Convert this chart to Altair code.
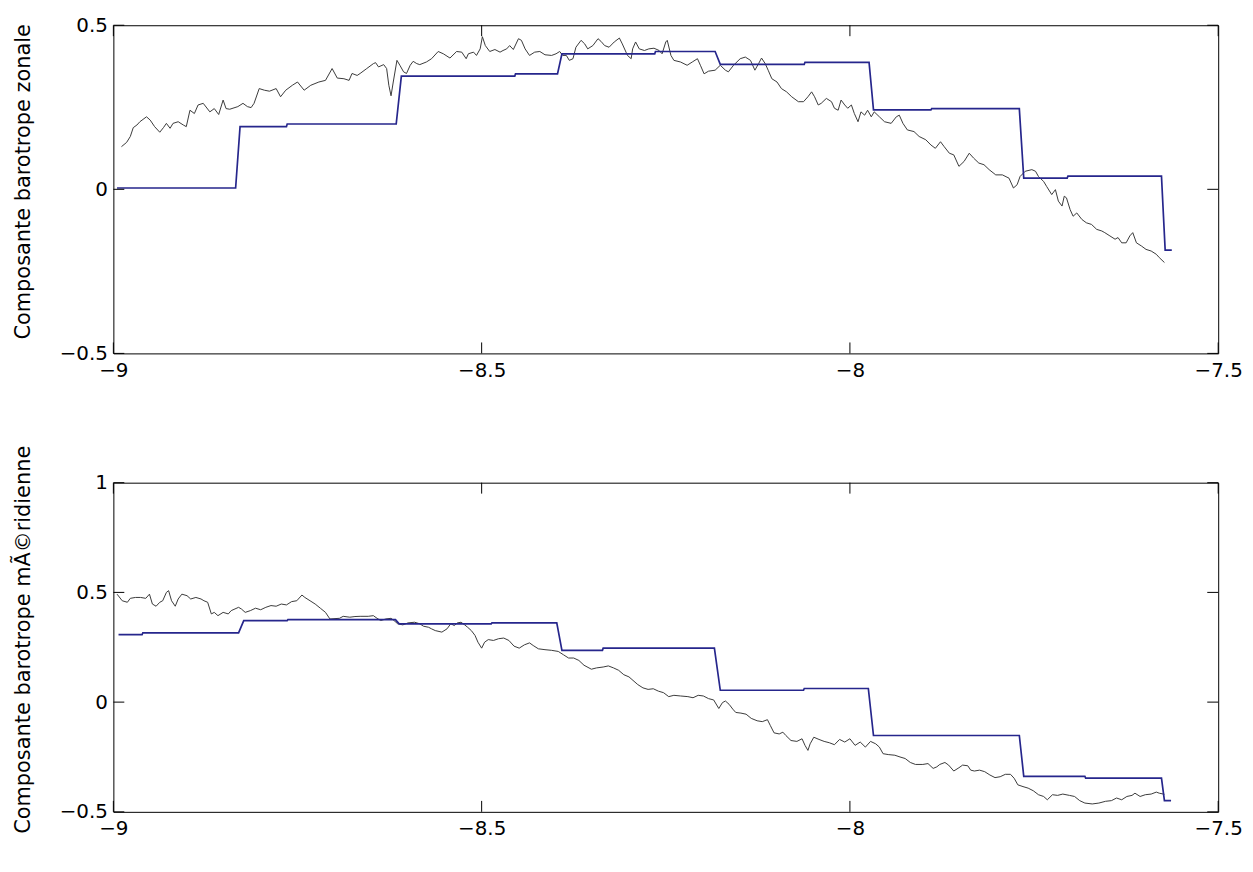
import altair as alt
import pandas as pd

# ---------------- data ----------------
x_ticks = [-9, -8.5, -8, -7.5]
top_y_ticks = [-0.5, 0, 0.5]
bottom_y_ticks = [-0.5, 0, 0.5, 1]

top_title = "Composante barotrope zonale"
bottom_title = "Composante barotrope mÃ©ridienne"

# top panel, black (noisy) series
top_black_x = [
    -8.989, -8.982, -8.977, -8.973, -8.968, -8.964, -8.955, -8.950, -8.944, -8.937,
    -8.932, -8.928, -8.923, -8.919, -8.912, -8.905, -8.901, -8.896, -8.890, -8.885,
    -8.878, -8.869, -8.863, -8.857, -8.851, -8.847, -8.842, -8.831, -8.824, -8.818,
    -8.813, -8.809, -8.802, -8.795, -8.788, -8.779, -8.773, -8.766, -8.757, -8.750,
    -8.741, -8.732, -8.721, -8.712, -8.703, -8.696, -8.687, -8.680, -8.676, -8.669,
    -8.665, -8.656, -8.647, -8.644, -8.640, -8.633, -8.629, -8.626, -8.623, -8.620,
    -8.615, -8.611, -8.606, -8.602, -8.597, -8.593, -8.588, -8.584, -8.575, -8.568,
    -8.559, -8.552, -8.543, -8.534, -8.527, -8.521,
    -8.518, -8.511, -8.507, -8.502, -8.499, -8.495, -8.489, -8.482, -8.475, -8.471,
    -8.466, -8.462, -8.457, -8.450, -8.446, -8.441, -8.435, -8.428, -8.421, -8.414,
    -8.405, -8.399, -8.394, -8.390, -8.385, -8.381, -8.376, -8.372, -8.365, -8.360,
    -8.356, -8.349, -8.342, -8.338, -8.333, -8.327, -8.320, -8.313, -8.309, -8.304,
    -8.302, -8.297, -8.295, -8.291, -8.286, -8.279, -8.273, -8.266, -8.259, -8.255,
    -8.250, -8.248, -8.243, -8.239, -8.230, -8.221, -8.214, -8.207, -8.203, -8.198,
    -8.192, -8.183, -8.176, -8.169, -8.165, -8.158, -8.149, -8.142, -8.135, -8.129,
    -8.124, -8.120, -8.115, -8.111, -8.106, -8.099, -8.093, -8.086, -8.079, -8.070,
    -8.063, -8.057, -8.052, -8.048, -8.043, -8.039,
    -8.032, -8.025, -8.021, -8.016, -8.012, -8.007, -8.003, -7.998, -7.994, -7.989,
    -7.985, -7.980, -7.976, -7.971, -7.967, -7.960, -7.953, -7.944, -7.937, -7.933,
    -7.928, -7.922, -7.913, -7.906, -7.897, -7.890, -7.884, -7.877, -7.872, -7.865,
    -7.859, -7.852, -7.845, -7.838, -7.832, -7.825, -7.818, -7.811, -7.802, -7.793,
    -7.784, -7.778, -7.773, -7.769, -7.762, -7.753, -7.748, -7.744, -7.737, -7.733,
    -7.726, -7.721, -7.717, -7.712, -7.709, -7.706, -7.701, -7.697, -7.692, -7.685,
    -7.679, -7.672, -7.665, -7.658, -7.654, -7.647, -7.640, -7.636, -7.631, -7.625,
    -7.620, -7.616, -7.611, -7.604, -7.598, -7.591, -7.584, -7.580, -7.573,
]
top_black_y = [
    0.130, 0.143, 0.161, 0.188, 0.196, 0.206, 0.221, 0.211, 0.191, 0.174,
    0.188, 0.201, 0.186, 0.201, 0.206, 0.196, 0.191, 0.241, 0.231, 0.257,
    0.262, 0.236, 0.246, 0.228, 0.272, 0.246, 0.244, 0.252, 0.262, 0.252,
    0.249, 0.262, 0.307, 0.302, 0.299, 0.307, 0.282, 0.302, 0.317, 0.327,
    0.302, 0.317, 0.327, 0.332, 0.368, 0.339, 0.337, 0.332, 0.353, 0.347,
    0.353, 0.368, 0.383, 0.386, 0.373, 0.380, 0.368, 0.317, 0.285, 0.327,
    0.393, 0.378, 0.358, 0.353, 0.378, 0.390, 0.383, 0.380, 0.388, 0.398,
    0.420, 0.413, 0.400, 0.420, 0.418, 0.398,
    0.413, 0.418, 0.408, 0.428, 0.465, 0.438, 0.420, 0.426, 0.418, 0.423,
    0.428, 0.438, 0.426, 0.459, 0.454, 0.428, 0.408, 0.418, 0.420, 0.410,
    0.408, 0.413, 0.420, 0.408, 0.408, 0.393, 0.398, 0.433, 0.454, 0.443,
    0.428, 0.438, 0.459, 0.451, 0.438, 0.433, 0.449, 0.461, 0.443, 0.418,
    0.408, 0.398, 0.428, 0.449, 0.428, 0.423, 0.428, 0.430, 0.423, 0.413,
    0.449, 0.454, 0.408, 0.393, 0.388, 0.378, 0.388, 0.398, 0.378, 0.352,
    0.360, 0.363, 0.378, 0.363, 0.358, 0.378, 0.398, 0.403, 0.393, 0.363,
    0.383, 0.400, 0.383, 0.363, 0.337, 0.327, 0.307, 0.297, 0.282, 0.267,
    0.267, 0.282, 0.297, 0.282, 0.257, 0.262,
    0.277, 0.267, 0.247, 0.241, 0.272, 0.257, 0.247, 0.257, 0.231, 0.206,
    0.236, 0.226, 0.241, 0.221, 0.236, 0.221, 0.206, 0.201, 0.221, 0.226,
    0.201, 0.181, 0.176, 0.161, 0.151, 0.135, 0.125, 0.145, 0.130, 0.110,
    0.105, 0.070, 0.085, 0.110, 0.095, 0.080, 0.075, 0.060, 0.044, 0.044,
    0.034, 0.004, 0.014, 0.039, 0.055, 0.060, 0.055, 0.039, 0.024, 0.009,
    -0.016, -0.001, -0.036, -0.051, -0.021, -0.026, -0.062, -0.082, -0.072, -0.092,
    -0.102, -0.107, -0.122, -0.127, -0.132, -0.142, -0.152, -0.147, -0.163, -0.163,
    -0.142, -0.132, -0.163, -0.173, -0.183, -0.188, -0.198, -0.208, -0.223,
]

# top panel, blue (step) series
top_blue_x = [-8.995, -8.834, -8.828, -8.765, -8.764, -8.616, -8.609, -8.455, -8.454, -8.397,
              -8.391, -8.265, -8.264, -8.183, -8.176, -8.062, -8.061, -7.974, -7.968, -7.890,
              -7.889, -7.770, -7.764, -7.705, -7.704, -7.577, -7.572, -7.563]
top_blue_y = [0.004, 0.004, 0.191, 0.191, 0.199, 0.199, 0.345, 0.345, 0.352, 0.352,
              0.413, 0.413, 0.420, 0.420, 0.381, 0.381, 0.387, 0.387, 0.242, 0.242,
              0.246, 0.246, 0.034, 0.034, 0.040, 0.040, -0.185, -0.185]

# bottom panel, black (noisy) series
bottom_black_x = [
    -8.995, -8.988, -8.981, -8.977, -8.970, -8.963, -8.956, -8.951, -8.947, -8.942,
    -8.937, -8.933, -8.928, -8.925, -8.921, -8.916, -8.912, -8.907, -8.900, -8.895,
    -8.888, -8.881, -8.877, -8.872, -8.867, -8.863, -8.858, -8.851, -8.844, -8.840,
    -8.830, -8.826, -8.821, -8.814, -8.807, -8.800, -8.793, -8.786, -8.779, -8.772,
    -8.765, -8.758, -8.751, -8.744, -8.740, -8.733, -8.726, -8.719, -8.712, -8.706,
    -8.693, -8.688, -8.679, -8.672, -8.665, -8.654, -8.647, -8.642, -8.637, -8.630,
    -8.623, -8.619, -8.614, -8.607, -8.600, -8.591, -8.584, -8.579, -8.572, -8.568,
    -8.563, -8.554, -8.547, -8.542, -8.537, -8.533, -8.528, -8.523, -8.519, -8.514,
    -8.509, -8.505, -8.500, -8.496, -8.491, -8.484, -8.477, -8.470, -8.463, -8.456,
    -8.449, -8.442, -8.435, -8.430, -8.423, -8.414, -8.405, -8.396, -8.389, -8.382,
    -8.375, -8.368, -8.361, -8.351, -8.344, -8.335, -8.328, -8.321, -8.314, -8.307,
    -8.300,
    -8.288, -8.281, -8.274, -8.267, -8.260, -8.253, -8.246, -8.239, -8.230, -8.220,
    -8.213, -8.206, -8.199, -8.192, -8.185, -8.178, -8.173, -8.169, -8.164, -8.159,
    -8.155, -8.148, -8.141, -8.134, -8.126, -8.119, -8.112, -8.108, -8.103, -8.096,
    -8.091, -8.087, -8.080, -8.072, -8.065, -8.061, -8.057, -8.054, -8.049, -8.042,
    -8.035, -8.028, -8.021, -8.014, -8.007, -8.000, -7.993, -7.986, -7.979, -7.972,
    -7.965, -7.960, -7.955, -7.948, -7.939, -7.932, -7.925, -7.918, -7.911, -7.901,
    -7.894, -7.887, -7.882, -7.878, -7.871, -7.866, -7.859, -7.852, -7.847, -7.840,
    -7.836, -7.831, -7.824, -7.817, -7.810, -7.803, -7.796, -7.789, -7.782, -7.777,
    -7.772, -7.765, -7.758, -7.751, -7.744, -7.737, -7.732, -7.725, -7.718, -7.711,
    -7.702, -7.695, -7.688, -7.681, -7.671, -7.662, -7.653, -7.645, -7.638, -7.631,
    -7.624, -7.617, -7.613, -7.606, -7.599, -7.591, -7.584, -7.580, -7.573,
]
bottom_black_y = [
    0.492, 0.462, 0.455, 0.473, 0.477, 0.477, 0.473, 0.492, 0.447, 0.437,
    0.455, 0.462, 0.500, 0.508, 0.462, 0.437, 0.470, 0.492, 0.485, 0.470,
    0.477, 0.470, 0.462, 0.455, 0.402, 0.409, 0.394, 0.409, 0.402, 0.417,
    0.432, 0.424, 0.409, 0.417, 0.428, 0.421, 0.432, 0.440, 0.437, 0.447,
    0.443, 0.458, 0.462, 0.488, 0.477, 0.462, 0.447, 0.428, 0.409, 0.379,
    0.382, 0.391, 0.387, 0.390, 0.391, 0.391, 0.394, 0.382, 0.372, 0.379,
    0.382, 0.372, 0.357, 0.352, 0.361, 0.364, 0.357, 0.346, 0.341, 0.334,
    0.326, 0.319, 0.334, 0.357, 0.349, 0.361, 0.364, 0.352, 0.341, 0.326,
    0.304, 0.273, 0.246, 0.273, 0.285, 0.281, 0.289, 0.292, 0.281, 0.255,
    0.246, 0.261, 0.270, 0.258, 0.243, 0.239, 0.236, 0.231, 0.216, 0.201,
    0.201, 0.190, 0.168, 0.150, 0.156, 0.160, 0.165, 0.156, 0.145, 0.125,
    0.115,
    0.080, 0.065, 0.058, 0.061, 0.050, 0.043, 0.025, 0.031, 0.028, 0.025,
    0.020, 0.031, 0.028, 0.016, 0.010, -0.029, -0.002, 0.005, -0.010, -0.032,
    -0.047, -0.050, -0.055, -0.074, -0.085, -0.089, -0.080, -0.107, -0.140, -0.145,
    -0.137, -0.152, -0.175, -0.179, -0.167, -0.197, -0.220, -0.190, -0.160, -0.170,
    -0.179, -0.185, -0.194, -0.170, -0.182, -0.167, -0.197, -0.182, -0.205, -0.179,
    -0.190, -0.205, -0.235, -0.239, -0.242, -0.250, -0.257, -0.275, -0.284, -0.284,
    -0.280, -0.302, -0.295, -0.284, -0.275, -0.287, -0.314, -0.299, -0.287, -0.290,
    -0.310, -0.314, -0.310, -0.317, -0.332, -0.344, -0.340, -0.329, -0.329, -0.347,
    -0.377, -0.385, -0.392, -0.404, -0.422, -0.430, -0.445, -0.422, -0.425, -0.419,
    -0.425, -0.430, -0.449, -0.460, -0.464, -0.460, -0.452, -0.449, -0.437, -0.445,
    -0.430, -0.425, -0.415, -0.430, -0.422, -0.419, -0.410, -0.415, -0.420,
]

# bottom panel, blue (step) series
bottom_blue_x = [-8.993, -8.961, -8.960, -8.830, -8.823, -8.764, -8.763, -8.617, -8.612, -8.487,
                 -8.486, -8.398, -8.391, -8.336, -8.335, -8.184, -8.176, -8.063, -8.062, -7.975,
                 -7.968, -7.770, -7.764, -7.681, -7.680, -7.577, -7.573, -7.564]
bottom_blue_y = [0.308, 0.308, 0.316, 0.316, 0.371, 0.371, 0.376, 0.376, 0.357, 0.357,
                 0.361, 0.361, 0.236, 0.236, 0.246, 0.246, 0.054, 0.054, 0.062, 0.062,
                 -0.152, -0.152, -0.338, -0.338, -0.346, -0.346, -0.449, -0.449]

# ---------------- chart ----------------
W = 1111
FONT = "DejaVu Sans"
BLACK = "#3a3a3a"
BLUE = "#26268c"
TICK = 11


def panel(bx, by, ux, uy, ydom, yticks, title, h):
    black = pd.DataFrame({"x": bx, "y": by, "i": list(range(len(bx)))})
    blue = pd.DataFrame({"x": ux, "y": uy, "i": list(range(len(ux)))})
    xt = pd.DataFrame({"x": x_ticks})
    yt = pd.DataFrame({"y": yticks})
    xs = alt.Scale(domain=[-9, -7.5], nice=False, zero=False)
    ys = alt.Scale(domain=ydom, nice=False, zero=False)
    xaxis = alt.Axis(values=x_ticks, format="~g", ticks=False, domain=False, grid=False,
                     labelFlush=False, labelOverlap=False, labelPadding=7,
                     labelFont=FONT, labelFontSize=20, labelColor="black")
    yaxis = alt.Axis(values=yticks, format="~g", ticks=False, domain=False, grid=False,
                     labelFlush=False, labelOverlap=False, labelPadding=6,
                     labelFont=FONT, labelFontSize=20, labelColor="black",
                     titleFont=FONT, titleFontSize=21, titleFontWeight="normal",
                     titleColor="black", titlePadding=26, titleY=h / 2 - 8)
    X = alt.X("x:Q", scale=xs, axis=xaxis, title=None)
    Y = alt.Y("y:Q", scale=ys, axis=yaxis, title=title)

    l_black = alt.Chart(black).mark_line(color=BLACK, strokeWidth=1).encode(x=X, y=Y, order="i:Q")
    l_blue = alt.Chart(blue).mark_line(color=BLUE, strokeWidth=1.7).encode(x=X, y=Y, order="i:Q")
    t_top = alt.Chart(xt).mark_rule(color="black", strokeWidth=1).encode(
        x=X, y=alt.value(0), y2=alt.value(TICK))
    t_bot = alt.Chart(xt).mark_rule(color="black", strokeWidth=1).encode(
        x=X, y=alt.value(h), y2=alt.value(h - TICK))
    t_left = alt.Chart(yt).mark_rule(color="black", strokeWidth=1).encode(
        y=Y, x=alt.value(0), x2=alt.value(TICK))
    t_right = alt.Chart(yt).mark_rule(color="black", strokeWidth=1).encode(
        y=Y, x=alt.value(W - TICK), x2=alt.value(W))
    return alt.layer(l_black, l_blue, t_top, t_bot, t_left, t_right).properties(width=W, height=h)


top = panel(top_black_x, top_black_y, top_blue_x, top_blue_y, [-0.5, 0.5], top_y_ticks, top_title, 330)
bottom = panel(bottom_black_x, bottom_black_y, bottom_blue_x, bottom_blue_y, [-0.5, 1], bottom_y_ticks,
               bottom_title, 331)

chart = alt.vconcat(top, bottom, spacing=130, bounds="flush").properties(
    padding={"left": 11, "top": 12, "right": 10, "bottom": 10},
    background="white",
).configure_view(stroke="black", strokeWidth=1)

chart.save("out.html", embed_options={"renderer": "svg", "actions": False})
